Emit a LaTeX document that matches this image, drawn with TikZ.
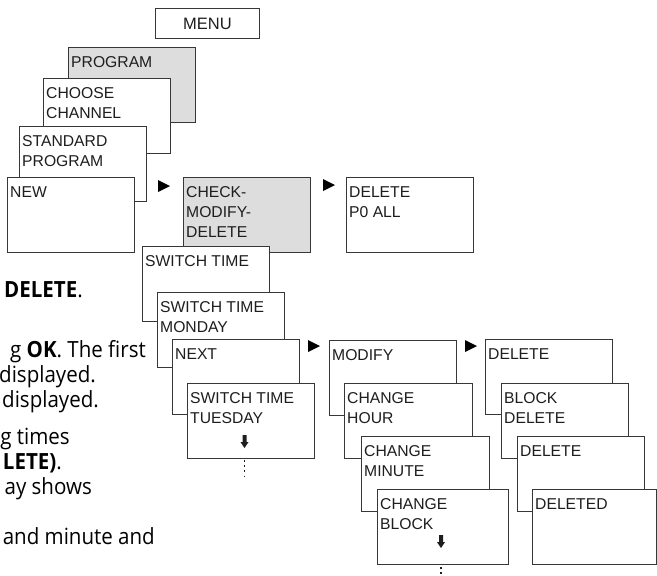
\documentclass[tikz,border=0pt]{standalone}
\usepackage{fontspec}
\setmainfont{Liberation Sans}
\newfontfamily\bodyfont[FakeStretch=0.92]{Open Sans}
\definecolor{boxgray}{RGB}{221,221,222}
\definecolor{edge}{RGB}{55,55,55}
\definecolor{ink}{RGB}{30,30,30}

\begin{document}
\begin{tikzpicture}[
x=1pt, y=-1pt,
every node/.style={text=ink},
play/.pic={\fill[black] (0,-6) -- (0,6) -- (12,0) -- cycle;},
more/.pic={\fill[ink] (-2,0) -- (2,0) -- (2,7) -- (4,7) -- (0,13) -- (-4,7) -- (-2,7) -- cycle;},
]
\useasboundingbox (0,0) rectangle (657,576);

\tikzset{
	scr/.style={draw=edge, fill=white, line width=0.9pt, minimum width=127pt, minimum height=75pt, anchor=north west, inner sep=0pt},
	hlbox/.style={scr, fill=boxgray},
	boxtext/.style={anchor=north west, inner sep=0pt, xshift=3pt, yshift=-9.5pt, align=left, font=\fontsize{15.7}{20}\selectfont},
	body/.style={anchor=base east, inner sep=0pt, text=black, font=\bodyfont\fontsize{22.3}{25}\selectfont},
	dotline/.style={ink, line width=1.6pt, dash pattern=on 1.6pt off 3.6pt},
}

% menu
\node[scr, minimum width=104pt, minimum height=30pt, font=\fontsize{16.5}{20}\selectfont] (menu) at (155,8) {MENU};

% program stack
\node[hlbox, label={[boxtext]north west:PROGRAM}] (prog) at (68,47) {};
\node[scr, label={[boxtext]north west:{CHOOSE\\CHANNEL}}] (chan) at (43,78) {};
\node[scr, label={[boxtext]north west:{STANDARD\\PROGRAM}}] (std) at (19,126) {};
\node[scr, label={[boxtext]north west:NEW}] (new) at (7,177) {};

\node[hlbox, label={[boxtext]north west:{CHECK-\\MODIFY-\\DELETE}}] (cmd) at (183,177) {};
\node[scr, label={[boxtext]north west:{DELETE\\P0 ALL}}] (delall) at (346,177) {};

% switch times
\node[scr, label={[boxtext]north west:SWITCH TIME}] (sw) at (142,246) {};
\node[scr, label={[boxtext]north west:{SWITCH TIME\\MONDAY}}] (swmon) at (157,292) {};
\node[scr, label={[boxtext]north west:NEXT}] (next) at (172,339) {};
\node[scr, label={[boxtext]north west:{SWITCH TIME\\TUESDAY}}] (swtue) at (187,383) {};

% modify
\node[scr, label={[boxtext]north west:MODIFY}] (mod) at (329,340) {};
\node[scr, minimum width=128pt, label={[boxtext]north west:{CHANGE\\HOUR}}] (hour) at (344,383) {};
\node[scr, minimum width=128pt, label={[boxtext]north west:{CHANGE\\MINUTE}}] (minute) at (361,436) {};
\node[scr, minimum width=131pt, label={[boxtext]north west:{CHANGE\\BLOCK}}] (block) at (377,489) {};

% delete
\node[scr, label={[boxtext]north west:DELETE}] (del) at (485,339) {};
\node[scr, label={[boxtext]north west:{BLOCK\\DELETE}}] (blkdel) at (501,383) {};
\node[scr, label={[boxtext]north west:DELETE}] (delq) at (517,436) {};
\node[scr, minimum width=124pt, label={[boxtext]north west:DELETED}] (deleted) at (532,489) {};

\pic at (158,186) {play};
\pic at (323,185) {play};
\pic at (308,346) {play};
\pic at (465,346) {play};

\pic at (244.5,435) {more};
\draw[dotline] (244.5,460) -- (244.5,476);
\pic at (441,535) {more};
\draw[dotline] (441,567) -- (441,580);

% page text
\node[body] (t1) at (83,297) {\textbf{DELETE}.};
\node[body] (t2) at (146,357) {g \textbf{OK}. The first};
\node[body] (t3) at (96,382) {displayed.};
\node[body] (t4) at (99,407) {displayed.};
\node[body] (t5) at (70,444) {g times};
\node[body] (t6) at (62,469) {\textbf{LETE)}.};
\node[body] (t7) at (92,494) {ay shows};
\node[body] (t8) at (155,544) {and minute and};

\end{tikzpicture}
\end{document}
